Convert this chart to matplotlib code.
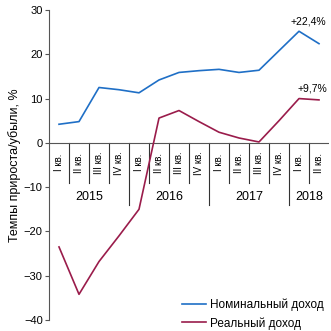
import numpy as np
import matplotlib.pyplot as plt

plt.rcParams['font.family'] = ['Liberation Sans', 'DejaVu Sans']

# квартальные данные 2015–2018
quarters = ['I кв.', 'II кв.', 'III кв.', 'IV кв.'] * 3 + ['I кв.', 'II кв.']
years = ['2015', '2016', '2017', '2018']
year_len = [4, 4, 4, 2]
nominal = [4.2, 4.8, 12.5, 12.0, 11.3, 14.2, 15.9, 16.3, 16.6, 15.9, 16.4, 20.8, 25.2, 22.4]
real = [-23.5, -34.2, -26.8, -21.0, -15.0, 5.6, 7.3, 4.8, 2.4, 1.1, 0.2, 5.0, 10.0, 9.7]

blue = '#1f6fc6'
red = '#9a1c4b'

fig = plt.figure(figsize=(3.31, 3.31), dpi=100)
ax = fig.add_axes([49 / 331, 11 / 331, 280 / 331, 310 / 331])

x = np.arange(len(quarters))
ax.plot(x, nominal, color=blue, lw=1.2, label='Номинальный доход', zorder=3)
ax.plot(x, real, color=red, lw=1.2, label='Реальный доход', zorder=3)

ax.set_xlim(-0.5, len(quarters) - 0.5)
ax.set_ylim(-40, 30)
ax.set_yticks(range(-40, 31, 10))
ax.set_yticklabels([str(v).replace('-', '\u2212') for v in range(-40, 31, 10)])
ax.set_xticks([])
for s in ['top', 'right', 'bottom']:
    ax.spines[s].set_visible(False)
ax.spines['left'].set_color('#555555')
ax.spines['left'].set_linewidth(0.8)
ax.tick_params(axis='y', direction='out', length=3, width=0.8, color='#555555',
               labelsize=8, pad=1.5)
ax.set_ylabel('Темпы прироста/убыли, %', fontsize=9, labelpad=2)

# нулевая линия и подписи кварталов под ней
ax.axhline(0, color='#555555', lw=0.8, zorder=2)
bounds = np.cumsum(year_len)[:-1] - 0.5
for k in range(1, len(quarters)):
    xb = k - 0.5
    y_end = -14 if xb in bounds else -9
    ax.plot([xb, xb], [0, y_end], color='#333333', lw=0.8, zorder=1)
for i, q in enumerate(quarters):
    ax.text(i, -4.5, q, rotation=90, ha='center', va='center', fontsize=7)
start = 0
for yname, n in zip(years, year_len):
    ax.text(start + (n - 1) / 2, -12.2, yname, ha='center', va='center', fontsize=9)
    start += n

ax.annotate('+22,4%', (x[-1], nominal[-1]), xytext=(-8, 16), textcoords='offset points',
            ha='center', va='center', fontsize=7.5)
ax.annotate('+9,7%', (x[-1], real[-1]), xytext=(-5, 8), textcoords='offset points',
            ha='center', va='center', fontsize=7.5)

ax.legend(loc='lower right', bbox_to_anchor=(1.02, -0.065), frameon=False, fontsize=8.5,
          handlelength=2.0, handletextpad=0.4, labelspacing=0.5)

fig.savefig('out.png', dpi=100)
